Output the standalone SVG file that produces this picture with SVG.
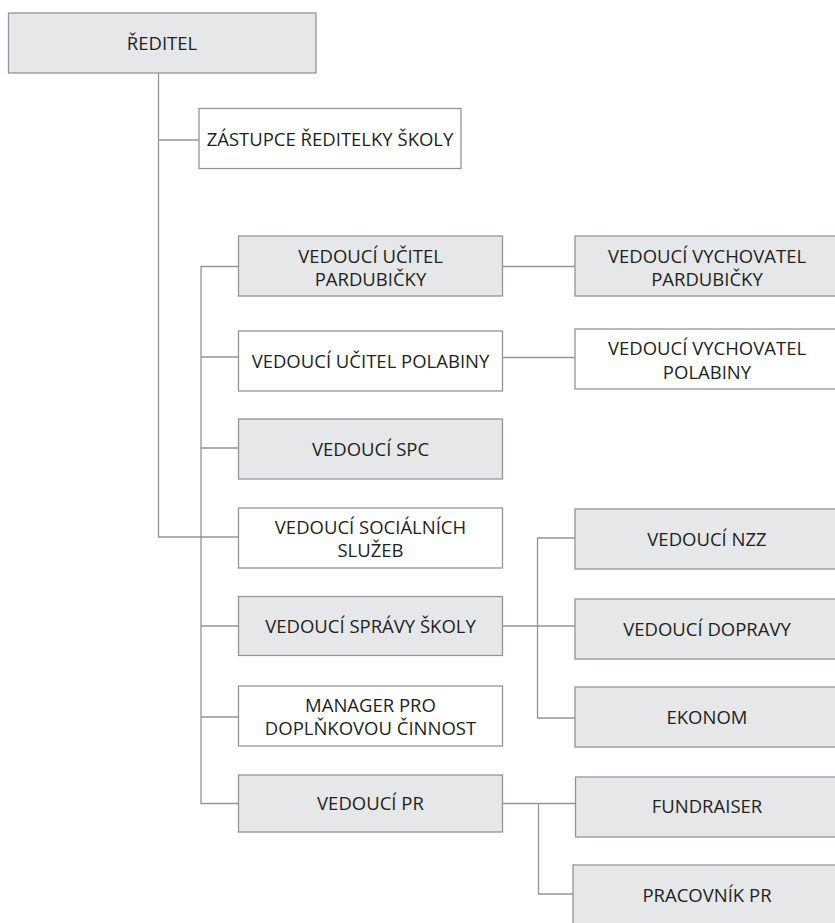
<svg xmlns="http://www.w3.org/2000/svg" width="835" height="923" viewBox="0 0 835 923">
<style>
.g{fill:#e6e7e8;stroke:#939598;stroke-width:1.3}
.w{fill:#ffffff;stroke:#939598;stroke-width:1.3}
.t{font-family:"Open Sans","Noto Sans",sans-serif;font-size:18.5px;fill:#231f20;text-anchor:middle}
.c{fill:none;stroke:#939598;stroke-width:1.3}
</style>
<rect width="835" height="923" fill="#ffffff"/>
<g id="connectors">
<path class="c" d="M158.5,73 V537 H238.5"/>
<path class="c" d="M158.5,140 H199"/>
<path class="c" d="M238.5,266.5 H201 V803.5 H238.5"/>
<path class="c" d="M201,357 H238.5"/>
<path class="c" d="M201,448 H238.5"/>
<path class="c" d="M201,626 H238.5"/>
<path class="c" d="M201,717 H238.5"/>
<path class="c" d="M502.5,266.5 H575"/>
<path class="c" d="M502.5,357.5 H575"/>
<path class="c" d="M502.5,626 H575"/>
<path class="c" d="M575,538 H537.5 V718 H575"/>
<path class="c" d="M502.5,803.5 H575.5"/>
<path class="c" d="M538.5,803.5 V894 H573"/>
</g>
<g id="reditel"><rect class="g" x="8.5" y="13" width="307.5" height="60"/><text class="t" x="162" y="50">ŘEDITEL</text></g>
<g id="zastupce"><rect class="w" x="199" y="108.5" width="262" height="60"/><text class="t" x="330" y="145.5">ZÁSTUPCE ŘEDITELKY ŠKOLY</text></g>
<g id="ucitel-pardubicky"><rect class="g" x="238.5" y="236" width="264" height="60"/><text class="t" x="370.5" y="262.5">VEDOUCÍ UČITEL</text><text class="t" x="370.5" y="286">PARDUBIČKY</text></g>
<g id="ucitel-polabiny"><rect class="w" x="238.5" y="331" width="264" height="60"/><text class="t" x="370.5" y="368">VEDOUCÍ UČITEL POLABINY</text></g>
<g id="spc"><rect class="g" x="238.5" y="419" width="264" height="60"/><text class="t" x="370.5" y="456">VEDOUCÍ SPC</text></g>
<g id="socialnich"><rect class="w" x="238.5" y="508" width="264" height="60"/><text class="t" x="370.5" y="534">VEDOUCÍ SOCIÁLNÍCH</text><text class="t" x="370.5" y="557">SLUŽEB</text></g>
<g id="spravy"><rect class="g" x="238.5" y="596.5" width="264" height="59"/><text class="t" x="370.5" y="633">VEDOUCÍ SPRÁVY ŠKOLY</text></g>
<g id="manager"><rect class="w" x="238.5" y="686" width="264" height="60"/><text class="t" x="370.5" y="712">MANAGER PRO</text><text class="t" x="370.5" y="735">DOPLŇKOVOU ČINNOST</text></g>
<g id="pr"><rect class="g" x="238.5" y="775" width="264" height="57"/><text class="t" x="370.5" y="810">VEDOUCÍ PR</text></g>
<g id="vychovatel-pardubicky"><rect class="g" x="575" y="236" width="265" height="60"/><text class="t" x="707" y="262.5">VEDOUCÍ VYCHOVATEL</text><text class="t" x="707" y="286">PARDUBIČKY</text></g>
<g id="vychovatel-polabiny"><rect class="w" x="575" y="329" width="265" height="60"/><text class="t" x="707" y="355">VEDOUCÍ VYCHOVATEL</text><text class="t" x="707" y="378.5">POLABINY</text></g>
<g id="nzz"><rect class="g" x="575" y="509" width="265" height="60"/><text class="t" x="707" y="546">VEDOUCÍ NZZ</text></g>
<g id="dopravy"><rect class="g" x="575" y="599" width="265" height="60"/><text class="t" x="707" y="636">VEDOUCÍ DOPRAVY</text></g>
<g id="ekonom"><rect class="g" x="575" y="687" width="265" height="60"/><text class="t" x="707" y="724">EKONOM</text></g>
<g id="fundraiser"><rect class="g" x="575.5" y="777" width="265" height="60"/><text class="t" x="707" y="813">FUNDRAISER</text></g>
<g id="pracovnik"><rect class="g" x="573" y="865" width="267" height="62"/><text class="t" x="707" y="902">PRACOVNÍK PR</text></g>
</svg>
